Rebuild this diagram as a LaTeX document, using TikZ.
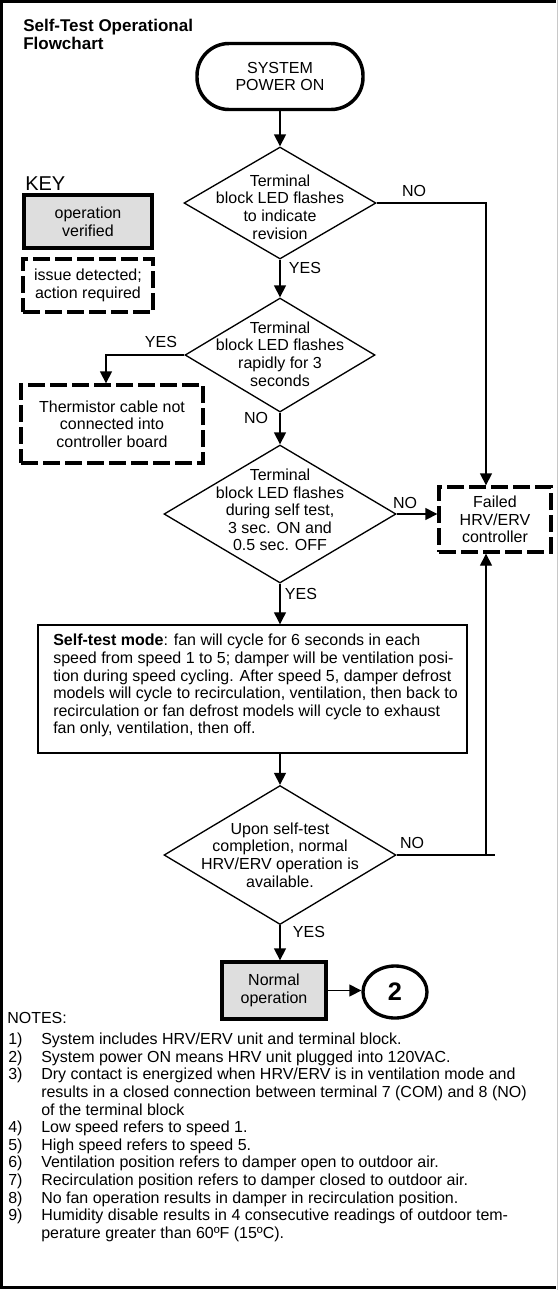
\documentclass[tikz,border=0pt]{standalone}
\usepackage{fontspec}
\setmainfont{Liberation Sans}
\usetikzlibrary{arrows.meta,positioning,shapes.geometric}
\definecolor{keygray}{RGB}{222,222,222}
\definecolor{edgegray}{RGB}{200,200,200}
\newdimen\pixel \pixel=0.75pt

\begin{document}
\begin{tikzpicture}[x=0.75pt, y=-0.75pt, font=\fontsize{12}{13.2}\selectfont,
  >={Triangle[length=9pt,width=9pt]},
  flow/.style={line width=1pt},
  okbox/.style={draw, line width=2.5pt, fill=keygray, align=center, inner sep=0pt},
  issuebox/.style={draw, line width=2.5pt, dash pattern=on 12.5pt off 4pt, align=center, inner sep=0pt},
  decision/.style={diamond, draw, line width=1pt, inner sep=0pt},
  txt/.style={align=center, inner sep=0pt},
  tag/.style={inner sep=0pt}]
  \useasboundingbox (0,0) rectangle (559,1290);

  % ===== page frame =====
  \draw[line width=2.5pt] (556,1.5) -- (1.5,1.5) -- (1.5,1287.5) -- (556,1287.5);
  \draw[edgegray, line width=0.75pt] (557.5,0) -- (557.5,1290);

  % ===== title and key =====
  \node[tag, anchor=west, align=left, font=\fontsize{12.75}{13.5}\selectfont\bfseries] (title) at (23,34) {Self-Test Operational\\Flowchart};
  \node[tag, anchor=west, font=\fontsize{15}{16}\selectfont] (keyhead) at (25,184) {KEY};
  \node[okbox, minimum width=128\pixel, minimum height=53\pixel] (keyok) at (88,221.5) {operation\\verified};
  \node[issuebox, minimum width=130\pixel, minimum height=53\pixel] (keyissue) at (88,285.5) {issue detected;\\action required};

  % ===== main column =====
  \node[draw, line width=2.6pt, rounded corners=24pt, minimum width=166\pixel, minimum height=66\pixel, align=center, inner sep=0pt] (start) at (280,76.5) {SYSTEM\\POWER ON};

  \node[decision, minimum width=192\pixel, minimum height=112\pixel] (test1) at (280,203) {};
  \node[txt] (test1txt) at (280,207) {Terminal\\block LED flashes\\to indicate\\revision};

  \node[decision, minimum width=190\pixel, minimum height=114\pixel] (test2) at (280,355) {};
  \node[txt] (test2txt) at (280,354) {Terminal\\block LED flashes\\rapidly for 3\\seconds};

  \node[decision, minimum width=232\pixel, minimum height=138\pixel] (test3) at (280,514) {};
  \node[txt] (test3txt) at (280,510) {Terminal\\block LED flashes\\during self test,\\3 sec. ON and\\0.5 sec. OFF};

  \node[draw, line width=1.1pt, minimum width=429\pixel, minimum height=128\pixel, inner sep=0pt] (selftest) at (252.5,689) {};
  \node[tag, anchor=north west, align=left] (selftesttxt) at (53,634) {\textbf{Self-test mode}: fan will cycle for 6 seconds in each\\
    speed from speed 1 to 5; damper will be ventilation posi-\\
    tion during speed cycling. After speed 5, damper defrost\\
    models will cycle to recirculation, ventilation, then back to\\
    recirculation or fan defrost models will cycle to exhaust\\
    fan only, ventilation, then off.};

  \node[decision, minimum width=232\pixel, minimum height=139\pixel] (test4) at (280,855) {};
  \node[txt] (test4txt) at (280,855) {Upon self-test\\completion, normal\\HRV/ERV operation is\\available.};

  \node[okbox, minimum width=104\pixel, minimum height=57\pixel] (normal) at (274,990.5) {Normal\\operation};
  \node[ellipse, draw, line width=2.5pt, minimum width=64\pixel, minimum height=52\pixel, inner sep=0pt, font=\fontsize{19}{20}\selectfont\bfseries] (next) at (395,992) {2};

  % ===== side boxes =====
  \node[issuebox, minimum width=182\pixel, minimum height=78\pixel] (therm) at (112,424) {Thermistor cable not\\connected into\\controller board};
  \node[issuebox, minimum width=112\pixel, minimum height=65\pixel] (fail) at (495,519.5) {Failed\\HRV/ERV\\controller};
  \coordinate (rail) at (486,0);

  % ===== connectors =====
  \draw[flow,->] (start) -- (test1);
  \draw[flow,->] (test1) -- (test2);
  \draw[flow,->] (test1.east) -| (fail.north -| rail);
  \draw[flow,->] (test2.west) -| ([xshift=-4.5pt]therm.north);
  \draw[flow,->] (test2) -- (test3);
  \draw[flow,->] (test3.east) -- (test3.east -| fail.west);
  \draw[flow,->] (test3.south) -- (test3.south |- selftest.north);
  \draw[flow,->] (selftest.south -| test4.north) -- (test4.north);
  \draw[flow] (test4.east) -- (test4.east -| fail.south);
  \draw[flow,->] (test4.east -| rail) -- (fail.south -| rail);
  \draw[flow,->] (test4.south) -- (test4.south |- normal.north);
  \draw[flow,->] (normal.east) -- (normal.east -| next.west);

  % ===== branch labels =====
  \node[tag] (yes1) at (305,268) {YES};
  \node[tag] (no1) at (414,191) {NO};
  \node[tag] (yes2) at (161,342) {YES};
  \node[tag] (no2) at (256,418) {NO};
  \node[tag] (no3) at (405,503) {NO};
  \node[tag] (yes3) at (301,594) {YES};
  \node[tag] (no4) at (412,843) {NO};
  \node[tag] (yes4) at (309,932) {YES};

  % ===== notes =====
  \node[tag, anchor=west] (noteshead) at (7,1018) {NOTES:};
  \node[tag, anchor=north west] (notes) at (8,1032) {%
    \begin{tabular}{@{}p{33\pixel}@{}l@{}}
    1) & System includes HRV/ERV unit and terminal block.\\
    2) & System power ON means HRV unit plugged into 120VAC.\\
    3) & Dry contact is energized when HRV/ERV is in ventilation mode and\\
       & results in a closed connection between terminal 7 (COM) and 8 (NO)\\
       & of the terminal block\\
    4) & Low speed refers to speed 1.\\
    5) & High speed refers to speed 5.\\
    6) & Ventilation position refers to damper open to outdoor air.\\
    7) & Recirculation position refers to damper closed to outdoor air.\\
    8) & No fan operation results in damper in recirculation position.\\
    9) & Humidity disable results in 4 consecutive readings of outdoor tem-\\
       & perature greater than 60ºF (15ºC).
    \end{tabular}};
\end{tikzpicture}
\end{document}
